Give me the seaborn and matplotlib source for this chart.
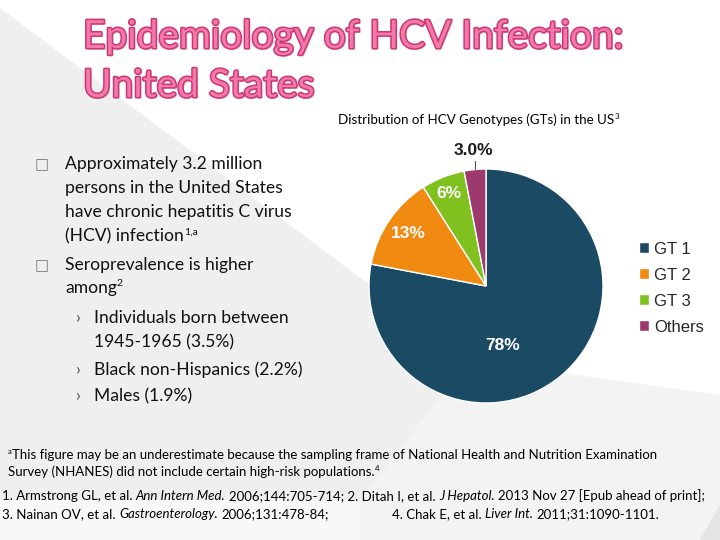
import matplotlib
matplotlib.use("Agg")
import matplotlib.pyplot as plt
import matplotlib.patheffects as pe
from matplotlib.patches import Polygon
import numpy as np
import seaborn as sns

# chart data
genotypes = ["GT 1", "GT 2", "GT 3", "Others"]
shares = [78, 13, 6, 3]
share_labels = ["78%", "13%", "6%", "3.0%"]
colors = ["#1b4a64", "#f08a10", "#80c11f", "#9c3a6e"]

title_lines = ["Epidemiology of HCV Infection:", "United States"]
chart_title = "Distribution of HCV Genotypes (GTs) in the US"

bullets = [
    ["Approximately 3.2 million", "persons in the United States",
     "have chronic hepatitis C virus", ("(HCV) infection", "1,a")],
    ["Seroprevalence is higher", ("among", "2")],
]
sub_bullets = [["Individuals born between", "1945-1965 (3.5%)"],
               ["Black non-Hispanics (2.2%)"],
               ["Males (1.9%)"]]

sns.set_theme(style="white")
plt.rcParams["font.family"] = ["Lato", "DejaVu Sans"]

W, H = 720, 540
fig = plt.figure(figsize=(7.2, 5.4), dpi=100)
fig.patch.set_facecolor("white")


def fx(x):
    return x / W


def fy(y):
    return 1 - y / H


# light slide background shapes
bg = fig.add_axes([0, 0, 1, 1])
bg.set_xlim(0, W)
bg.set_ylim(H, 0)
bg.axis("off")
bg.add_patch(Polygon([(0, 8), (470, 360), (360, 500), (0, 500)], color="#efefef", lw=0))
bg.add_patch(Polygon([(470, 360), (720, 395), (720, 540), (360, 540), (360, 500)],
                     color="#f3f3f3", lw=0))
bg.add_patch(Polygon([(0, 500), (360, 500), (360, 540), (0, 540)], color="#f8f8f8", lw=0))
bg.add_patch(Polygon([(700, 540), (720, 505), (720, 540)], color="#e4e4e4", lw=0))

renderer = fig.canvas.get_renderer()


def text_width(s, size, **kw):
    t = fig.text(0, 0, s, fontsize=size, **kw)
    w = t.get_window_extent(renderer).width
    t.remove()
    return w


def draw_runs(x, y, parts, size, color="black", family=None):
    # parts: (text, kind) with kind "n", "i" (italic), "s" (superscript); "_" = space
    cx = x
    for txt, kind in parts:
        if txt == "_":
            cx += text_width("a a", size) - text_width("aa", size)
            continue
        s = size * (0.6 if kind == "s" else 1)
        dy = size * 100 / 72 * 0.38 if kind == "s" else 0
        kw = dict(fontsize=s, color=color, va="baseline", ha="left",
                  style="italic" if kind == "i" else "normal")
        if family:
            kw["family"] = family
        t = fig.text(fx(cx), fy(y - dy), txt, **kw)
        cx += t.get_window_extent(renderer).width
    return cx


# title
title_fx = [pe.withSimplePatchShadow(offset=(1.2, -1.2), shadow_rgbFace="#9a9a9a", alpha=0.5),
            pe.Stroke(linewidth=2.2, foreground="#cf3574"), pe.Normal()]
for line, base in zip(title_lines, [48, 97]):
    fig.text(fx(83), fy(base), line, fontsize=28, color="#f27aaa", va="baseline",
             path_effects=title_fx)

draw_runs(338, 124, [(chart_title, "n"), ("3", "s")], 9.6)

# bullets
body = 12.6
base = [169, 193, 217, 241, 270, 293]
i = 0
for group in bullets:
    for j, line in enumerate(group):
        if j == 0:
            fig.text(fx(35), fy(base[i]), "\u25a1", fontsize=body * 0.85, color="#777777",
                     va="baseline", family="DejaVu Sans")
        if isinstance(line, tuple):
            draw_runs(65, base[i], [(line[0], "n"), (line[1], "s")], body, color="#111111")
        else:
            fig.text(fx(65), fy(base[i]), line, fontsize=body, color="#111111", va="baseline")
        i += 1

sub_base = [[323, 347], [375], [401]]
for group, ys in zip(sub_bullets, sub_base):
    fig.text(fx(76), fy(ys[0]), "\u203a", fontsize=body, color="#555555", va="baseline")
    for line, yb in zip(group, ys):
        fig.text(fx(94), fy(yb), line, fontsize=body, color="#111111", va="baseline")

# footnotes and references
fn = 9.5
draw_runs(8, 459, [("a", "s"), ("This figure may be an underestimate because the sampling frame of "
                                 "National Health and Nutrition Examination", "n")], fn)
draw_runs(8, 476, [("Survey (NHANES) did not include certain high-risk populations.", "n"),
                   ("4", "s")], fn)
draw_runs(2, 500, [("1. Armstrong GL, et al.", "n"), ("_", "n"), ("Ann Intern Med.", "i"),
                   ("_", "n"), ("2006;144:705-714; 2. Ditah I, et al.", "n"), ("_", "n"),
                   ("J Hepatol.", "i"), ("_", "n"),
                   ("2013 Nov 27 [Epub ahead of print];", "n")], fn)
draw_runs(2, 518, [("3. Nainan OV, et al.", "n"), ("_", "n"), ("Gastroenterology.", "i"),
                   ("_", "n"), ("2006;131:478-84;", "n")], fn)
draw_runs(392, 518, [("4. Chak E, et al.", "n"), ("_", "n"), ("Liver Int.", "i"),
                     ("_", "n"), ("2011;31:1090-1101.", "n")], fn)

# pie chart
cx, cy, r = 486, 286, 117
ax = fig.add_axes([fx(cx - r), fy(cy + r), 2 * r / W, 2 * r / H])
wedges, _ = ax.pie(shares, colors=colors, startangle=90, counterclock=False,
                   wedgeprops=dict(edgecolor="white", linewidth=1))
ax.set_xlim(-1, 1)
ax.set_ylim(-1, 1)
ax.set_aspect("equal")
ax.axis("off")

label_r = [0.53, 0.80, 0.85, 1.10]
for k, (w, lab) in enumerate(zip(wedges, share_labels)):
    mid = np.deg2rad((w.theta1 + w.theta2) / 2)
    if k == 0:
        mid = np.deg2rad(-74)
    x, y = label_r[k] * np.cos(mid), label_r[k] * np.sin(mid)
    if k == 3:
        ax.plot([np.cos(mid), np.cos(mid)], [1.0, 1.065], color="#555555", lw=0.8,
                clip_on=False)
        ax.text(x, y, lab, ha="center", va="bottom", fontsize=12.5, weight="bold",
                color="#1a1a1a", family="Liberation Sans")
    else:
        ax.text(x, y, lab, ha="center", va="center", fontsize=12.5, weight="bold",
                color="white", family="Liberation Sans")

leg = ax.legend(wedges, genotypes, loc="center left", bbox_to_anchor=(fx(624), fy(288)),
                bbox_transform=fig.transFigure, frameon=False, handlelength=0.62,
                handleheight=0.62, handletextpad=0.3, labelspacing=0.66,
                prop=dict(family="Liberation Sans", size=12))
for txt in leg.get_texts():
    txt.set_color("#262626")

fig.savefig("out.png", dpi=100)
